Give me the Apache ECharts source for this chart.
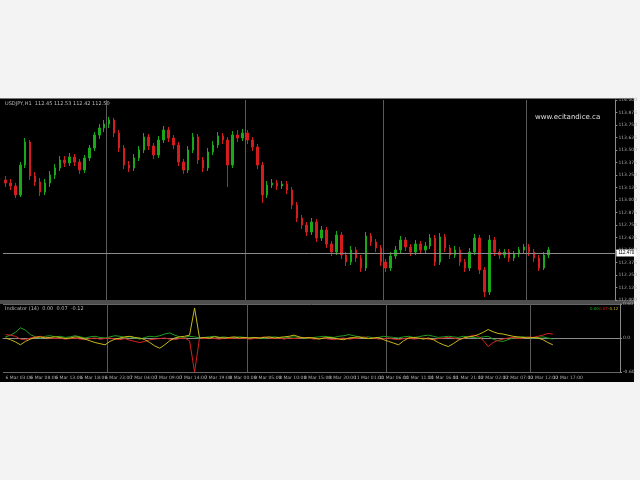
<!DOCTYPE html>
<html><head><meta charset="utf-8">
<script src="https://cdn.jsdelivr.net/npm/echarts@6/dist/echarts.min.js"></script>
<style>html,body{margin:0;padding:0;background:#f3f3f3}#c{width:640px;height:480px}</style>
</head><body><div id="c"></div>
<script>
// ---- data ----
const timeLabels = ["6 Mar 03:00","6 Mar 08:00","6 Mar 13:00","6 Mar 18:00","6 Mar 23:00","7 Mar 04:00","7 Mar 09:00","7 Mar 14:00","7 Mar 19:00","8 Mar 00:00","8 Mar 05:00","8 Mar 10:00","8 Mar 15:00","8 Mar 20:00","11 Mar 01:00","11 Mar 06:00","11 Mar 11:00","11 Mar 16:00","11 Mar 21:00","12 Mar 02:00","12 Mar 07:00","12 Mar 12:00","12 Mar 17:00"];
// [open, close, low, high]
const candles = [
[113.20,113.17,113.13,113.24],[113.17,113.14,113.10,113.21],[113.14,113.05,113.02,113.17],[113.05,113.35,113.03,113.38],
[113.35,113.58,113.32,113.62],[113.58,113.24,113.20,113.60],[113.24,113.18,113.14,113.28],[113.18,113.08,113.04,113.22],
[113.08,113.17,113.05,113.21],[113.17,113.25,113.13,113.29],[113.25,113.32,113.21,113.36],[113.32,113.40,113.29,113.44],
[113.40,113.37,113.33,113.44],[113.37,113.43,113.34,113.47],[113.43,113.38,113.34,113.46],[113.38,113.30,113.26,113.41],
[113.30,113.42,113.27,113.45],[113.42,113.52,113.39,113.55],[113.52,113.65,113.49,113.68],[113.65,113.72,113.61,113.76],
[113.72,113.76,113.68,113.80],[113.76,113.80,113.72,113.83],[113.80,113.67,113.63,113.82],[113.67,113.52,113.48,113.70],
[113.52,113.35,113.31,113.55],[113.35,113.32,113.28,113.39],[113.32,113.42,113.29,113.46],[113.42,113.50,113.39,113.54],
[113.50,113.63,113.47,113.67],[113.63,113.54,113.50,113.66],[113.54,113.45,113.41,113.57],[113.45,113.60,113.42,113.64],
[113.60,113.70,113.57,113.74],[113.70,113.62,113.58,113.73],[113.62,113.55,113.51,113.65],[113.55,113.38,113.34,113.58],
[113.38,113.30,113.26,113.41],[113.30,113.50,113.27,113.54],[113.50,113.63,113.47,113.67],[113.63,113.40,113.36,113.66],
[113.40,113.32,113.28,113.43],[113.32,113.48,113.29,113.52],[113.48,113.55,113.45,113.59],[113.55,113.64,113.52,113.68],
[113.64,113.60,113.56,113.67],[113.60,113.35,113.13,113.63],[113.35,113.65,113.32,113.69],[113.65,113.62,113.58,113.70],
[113.62,113.67,113.59,113.71],[113.67,113.60,113.56,113.70],[113.60,113.53,113.49,113.63],[113.53,113.35,113.31,113.56],
[113.35,113.05,112.97,113.38],[113.05,113.15,113.02,113.19],[113.15,113.17,113.12,113.21],[113.17,113.14,113.10,113.20],
[113.14,113.16,113.11,113.19],[113.16,113.10,113.06,113.19],[113.10,112.95,112.91,113.13],[112.95,112.82,112.78,112.98],
[112.82,112.75,112.71,112.85],[112.75,112.68,112.64,112.78],[112.68,112.78,112.65,112.82],[112.78,112.62,112.58,112.81],
[112.62,112.70,112.59,112.74],[112.70,112.56,112.52,112.73],[112.56,112.48,112.44,112.59],[112.48,112.65,112.45,112.69],
[112.65,112.45,112.41,112.68],[112.45,112.38,112.34,112.48],[112.38,112.50,112.35,112.54],[112.50,112.42,112.38,112.53],
[112.42,112.32,112.28,112.45],[112.32,112.64,112.29,112.68],[112.64,112.58,112.54,112.67],[112.58,112.52,112.48,112.61],
[112.52,112.38,112.34,112.55],[112.38,112.32,112.28,112.41],[112.32,112.44,112.29,112.48],[112.44,112.50,112.41,112.54],
[112.50,112.60,112.47,112.64],[112.60,112.53,112.49,112.63],[112.53,112.48,112.44,112.56],[112.48,112.56,112.45,112.60],
[112.56,112.50,112.46,112.59],[112.50,112.54,112.47,112.58],[112.54,112.62,112.51,112.66],[112.62,112.38,112.34,112.65],
[112.38,112.63,112.35,112.67],[112.63,112.52,112.48,112.66],[112.52,112.45,112.41,112.55],[112.45,112.50,112.42,112.54],
[112.50,112.38,112.34,112.53],[112.38,112.32,112.28,112.41],[112.32,112.48,112.29,112.52],[112.48,112.62,112.45,112.66],
[112.62,112.30,112.26,112.65],[112.30,112.08,112.03,112.33],[112.08,112.60,112.05,112.65],[112.60,112.48,112.44,112.63],
[112.48,112.45,112.41,112.51],[112.45,112.48,112.42,112.51],[112.48,112.42,112.38,112.51],[112.42,112.46,112.39,112.49],
[112.46,112.50,112.43,112.53],[112.50,112.53,112.47,112.56],[112.53,112.48,112.44,112.56],[112.48,112.42,112.38,112.51],
[112.42,112.32,112.29,112.45],[112.32,112.45,112.30,112.48],[112.45,112.50,112.42,112.53]
];
const lineGreen = [0.02,0.05,0.10,0.18,0.14,0.06,0.02,0.00,0.03,0.04,
0.02,0.03,0.01,0.02,0.04,0.02,0.00,0.02,0.03,0.01,
0.00,0.02,0.04,0.03,0.01,0.02,0.00,-0.02,0.01,0.03,
0.02,0.04,0.07,0.09,0.05,0.02,0.01,0.03,0.02,0.00,
0.01,0.02,0.03,0.01,0.02,0.00,0.01,0.02,0.01,0.00,
0.01,0.00,-0.01,0.01,0.02,0.01,0.00,0.01,0.02,0.01,
0.00,-0.01,0.01,0.02,0.03,0.02,0.01,0.03,0.04,0.06,
0.04,0.02,0.01,0.02,0.00,0.01,0.03,0.02,0.01,0.00,
0.02,0.03,0.01,0.02,0.04,0.05,0.03,0.01,0.02,0.03,
0.02,0.01,0.03,0.02,0.01,0.00,0.02,0.03,-0.02,-0.05,
-0.06,-0.03,0.00,0.01,0.02,0.01,0.00,0.01,0.02,0.00,-0.02];
const lineRed = [0.06,0.05,0.03,-0.02,-0.03,0.00,0.02,0.03,0.01,0.00,
-0.01,0.00,-0.02,-0.01,0.00,-0.02,-0.03,-0.01,0.00,-0.02,
-0.01,0.00,-0.02,-0.03,-0.01,-0.04,-0.06,-0.08,-0.06,-0.03,
-0.02,-0.01,0.00,-0.02,-0.03,-0.01,0.00,-0.05,-0.60,0.00,
-0.01,0.00,-0.01,-0.02,0.00,-0.01,0.00,-0.01,0.00,-0.02,
-0.01,0.00,0.02,0.00,-0.01,0.00,-0.02,0.00,-0.01,0.00,
0.01,0.00,-0.02,-0.01,0.00,-0.02,-0.03,-0.01,0.00,-0.02,
-0.01,0.00,0.02,-0.01,0.00,-0.02,-0.01,0.00,-0.02,-0.03,
-0.01,0.00,-0.02,-0.01,0.00,-0.02,-0.03,-0.01,0.00,0.01,
0.00,-0.02,-0.01,0.02,0.05,0.03,-0.04,-0.15,-0.08,-0.04,
-0.02,0.00,0.01,-0.01,0.00,0.02,0.01,0.03,0.05,0.08,0.07];
const lineYellow = [0.00,-0.03,-0.07,-0.12,-0.06,-0.02,0.01,0.02,0.00,0.01,
0.02,0.01,-0.01,0.00,0.02,0.01,-0.02,-0.05,-0.08,-0.10,
-0.12,-0.06,-0.02,0.00,0.02,0.03,0.01,0.00,-0.03,-0.08,
-0.14,-0.18,-0.12,-0.05,0.00,0.02,0.03,0.05,0.53,0.00,
0.01,0.00,0.02,0.01,0.00,0.01,0.02,0.00,0.01,0.00,
0.01,0.00,0.01,0.02,0.00,0.01,0.02,0.03,0.05,0.02,
0.00,0.01,0.00,-0.02,0.00,0.01,0.00,-0.02,-0.03,0.00,
0.01,0.02,0.00,-0.01,0.00,0.01,-0.03,-0.06,-0.09,-0.12,
-0.05,0.00,0.01,0.00,-0.02,0.00,-0.03,-0.08,-0.12,-0.15,
-0.10,-0.04,0.00,0.02,0.03,0.06,0.10,0.15,0.11,0.08,
0.07,0.05,0.03,0.02,0.01,0.00,0.01,0.00,-0.03,-0.08,-0.12];
const emptyBars = 13;
const bidPrice = 112.47;
const gridBars = [21, 49, 77, 106];
const titleText = "USDJPY,H1  112.45 112.53 112.42 112.50";
const indTitle = "Indicator (14)  0.00  0.07  -0.12";
const watermark = "www.ecitandice.ca";

// ---- build ----
const total = candles.length + emptyBars;
const cats = [];
for (let i = 0; i < total; i++) cats.push(String(i));
const pad = (arr) => arr.concat(new Array(emptyBars).fill('-'));
const labelFor = (v) => { const i = +v; return (i % 5 === 0 && i / 5 < timeLabels.length) ? timeLabels[i / 5] : ''; };
const vInt = (idx) => gridBars.indexOf(idx) >= 0;
const GRID = '#5a5a5a';

const chart = echarts.init(document.getElementById('c'), null, {renderer: 'canvas'});
chart.setOption({
  animation: false,
  backgroundColor: '#f3f3f3',
  graphic: [
    {type: 'rect', z: -10, shape: {x: 0, y: 98, width: 634, height: 284}, style: {fill: '#000'}},
    {type: 'line', z: 5, shape: {x1: 0, y1: 301, x2: 634, y2: 301}, style: {stroke: '#9a9a9a', lineWidth: 1}},
    {type: 'line', z: 5, shape: {x1: 0, y1: 303, x2: 634, y2: 303}, style: {stroke: '#9a9a9a', lineWidth: 1}},
    {type: 'line', z: 5, shape: {x1: 0, y1: 98.5, x2: 634, y2: 98.5}, style: {stroke: '#777', lineWidth: 1}},
    {type: 'text', z: 6, left: 5, top: 101, style: {text: titleText, fill: '#bbb', fontSize: 5, fontFamily: 'DejaVu Sans'}},
    {type: 'text', z: 6, left: 5, top: 306, style: {text: indTitle, fill: '#bbb', fontSize: 5, fontFamily: 'DejaVu Sans'}},
    {type: 'text', z: 6, left: 535, top: 114, style: {text: watermark, fill: '#e0e0e0', fontSize: 7, fontFamily: 'DejaVu Sans'}},
    {type: 'text', z: 6, left: 590, top: 307, style: {text: '0.00', fill: '#20b020', fontSize: 4, fontFamily: 'DejaVu Sans'}},
    {type: 'text', z: 6, left: 599, top: 307, style: {text: '0.07', fill: '#d02020', fontSize: 4, fontFamily: 'DejaVu Sans'}},
    {type: 'text', z: 6, left: 608, top: 307, style: {text: '-0.12', fill: '#c8b020', fontSize: 4, fontFamily: 'DejaVu Sans'}}
  ],
  grid: [
    {left: 3, top: 100, width: 617, height: 200},
    {left: 3, top: 304, width: 617, height: 68}
  ],
  xAxis: [
    {type: 'category', gridIndex: 0, data: cats, boundaryGap: true,
     axisLine: {show: false}, axisTick: {show: false}, axisLabel: {show: false},
     splitLine: {show: true, interval: vInt, lineStyle: {color: GRID, width: 1}}},
    {type: 'category', gridIndex: 1, data: cats, boundaryGap: true,
     axisLine: {show: true, lineStyle: {color: '#8a8a8a'}}, axisTick: {show: false},
     axisLabel: {show: true, interval: 0, formatter: labelFor, color: '#aaa', fontSize: 4.5, margin: 3, align: 'left', fontFamily: 'DejaVu Sans'},
     splitLine: {show: true, interval: vInt, lineStyle: {color: GRID, width: 1}}}
  ],
  yAxis: [
    {type: 'value', gridIndex: 0, position: 'right', min: 112, max: 114, interval: 0.125,
     axisLine: {show: true, lineStyle: {color: '#8a8a8a'}},
     axisTick: {show: true, length: 2, lineStyle: {color: '#8a8a8a'}},
     axisLabel: {color: '#aaa', fontSize: 4.5, margin: 3, formatter: v => v.toFixed(3), fontFamily: 'DejaVu Sans'},
     splitLine: {show: false}},
    {type: 'value', gridIndex: 1, position: 'right', min: -0.6, max: 0.6, interval: 0.6,
     axisLine: {show: true, lineStyle: {color: '#8a8a8a'}},
     axisTick: {show: true, length: 2, lineStyle: {color: '#8a8a8a'}},
     axisLabel: {color: '#aaa', fontSize: 4.5, margin: 3, formatter: v => (v === 0 ? '0.0' : v.toFixed(2)), fontFamily: 'DejaVu Sans'},
     splitLine: {show: true, lineStyle: {color: '#666'}}}
  ],
  series: [
    {type: 'candlestick', xAxisIndex: 0, yAxisIndex: 0, data: pad(candles), barWidth: 2,
     itemStyle: {color: '#18a818', color0: '#d41c1c', borderColor: '#18a818', borderColor0: '#d41c1c', borderWidth: 1},
     markLine: {silent: true, symbol: 'none', data: [{yAxis: bidPrice}],
       lineStyle: {color: '#8a8a8a', type: 'solid', width: 1},
       label: {show: true, position: 'end', distance: 1, formatter: p => p.value.toFixed(3), backgroundColor: '#fff', color: '#000', fontSize: 4.5, padding: [1, 2]}}},
    {type: 'line', xAxisIndex: 1, yAxisIndex: 1, data: pad(lineGreen), symbol: 'none', lineStyle: {color: '#1fa01f', width: 1}},
    {type: 'line', xAxisIndex: 1, yAxisIndex: 1, data: pad(lineRed), symbol: 'none', lineStyle: {color: '#d42020', width: 1}},
    {type: 'line', xAxisIndex: 1, yAxisIndex: 1, data: pad(lineYellow), symbol: 'none', lineStyle: {color: '#c8b818', width: 1}}
  ]
});
</script>
</body></html>
